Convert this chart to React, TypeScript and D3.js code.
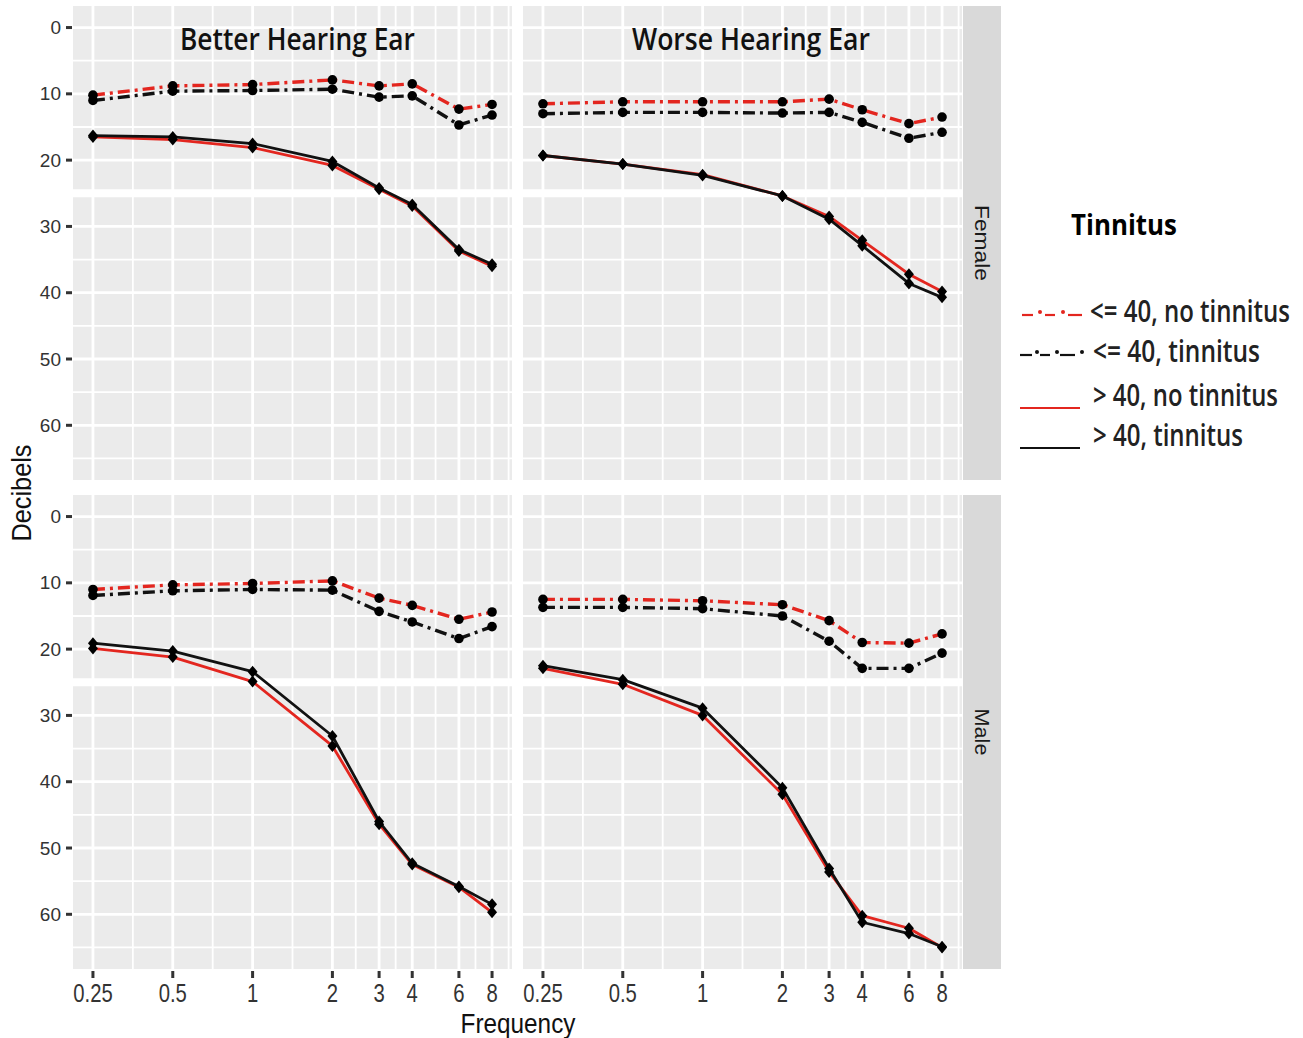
import React, { useLayoutEffect, useRef, useState } from "react";
import * as d3 from "d3";

// ---------- data ----------
const freqs = [0.25, 0.5, 1, 2, 3, 4, 6, 8];
const freqLabels = ["0.25", "0.5", "1", "2", "3", "4", "6", "8"];
const dbTicks = [0, 10, 20, 30, 40, 50, 60];
const dbMinor = [5, 15, 25, 35, 45, 55, 65];
const ears = ["Better Hearing Ear", "Worse Hearing Ear"];
const sexes = ["Female", "Male"];
const seriesNames = ["<= 40, no tinnitus", "<= 40, tinnitus", "> 40, no tinnitus", "> 40, tinnitus"];
const seriesColors = ["#e3261f", "#111111", "#e3261f", "#111111"];
const seriesDashed = [true, true, false, false];

// Better ear, female
const betterFemaleLe40NoTin = [10.2, 8.8, 8.6, 7.9, 8.8, 8.5, 12.3, 11.6];
const betterFemaleLe40Tin = [11.0, 9.6, 9.5, 9.3, 10.5, 10.3, 14.7, 13.2];
const betterFemaleGt40NoTin = [16.5, 16.9, 18.1, 20.8, 24.4, 26.9, 33.7, 36.0];
const betterFemaleGt40Tin = [16.3, 16.5, 17.5, 20.2, 24.2, 26.7, 33.5, 35.7];
// Worse ear, female
const worseFemaleLe40NoTin = [11.5, 11.2, 11.2, 11.2, 10.8, 12.4, 14.5, 13.5];
const worseFemaleLe40Tin = [13.0, 12.8, 12.8, 12.9, 12.8, 14.3, 16.7, 15.8];
const worseFemaleGt40NoTin = [19.3, 20.6, 22.2, 25.4, 28.5, 32.1, 37.2, 39.8];
const worseFemaleGt40Tin = [19.3, 20.6, 22.3, 25.4, 28.9, 32.9, 38.6, 40.7];
// Better ear, male
const betterMaleLe40NoTin = [11.0, 10.3, 10.1, 9.7, 12.3, 13.4, 15.5, 14.4];
const betterMaleLe40Tin = [11.9, 11.2, 11.0, 11.1, 14.3, 15.9, 18.4, 16.6];
const betterMaleGt40NoTin = [19.9, 21.2, 24.9, 34.6, 46.4, 52.5, 55.9, 59.7];
const betterMaleGt40Tin = [19.1, 20.3, 23.4, 33.1, 46.0, 52.3, 55.8, 58.5];
// Worse ear, male
const worseMaleLe40NoTin = [12.5, 12.5, 12.7, 13.3, 15.7, 19.0, 19.1, 17.7];
const worseMaleLe40Tin = [13.7, 13.7, 13.9, 15.0, 18.8, 22.9, 22.9, 20.6];
const worseMaleGt40NoTin = [22.9, 25.3, 30.0, 41.9, 53.6, 60.2, 62.1, 65.0];
const worseMaleGt40Tin = [22.5, 24.6, 28.9, 40.9, 53.1, 61.2, 62.9, 64.9];

// panel lookup [row=sex][col=ear] -> series list
const panelData = [
  [
    [betterFemaleLe40NoTin, betterFemaleLe40Tin, betterFemaleGt40NoTin, betterFemaleGt40Tin],
    [worseFemaleLe40NoTin, worseFemaleLe40Tin, worseFemaleGt40NoTin, worseFemaleGt40Tin],
  ],
  [
    [betterMaleLe40NoTin, betterMaleLe40Tin, betterMaleGt40NoTin, betterMaleGt40Tin],
    [worseMaleLe40NoTin, worseMaleLe40Tin, worseMaleGt40NoTin, worseMaleGt40Tin],
  ],
];

// ---------- layout ----------
const W = 1303;
const H = 1038;
const colX: [number, number][] = [
  [73, 512],
  [523, 962],
];
const rowY: [number, number][] = [
  [6, 480],
  [495, 969],
];
const stripX: [number, number] = [963, 1001];
const PANEL_BG = "#ebebeb";
const ARIAL = "'Liberation Sans', Arial, sans-serif";
const HUMAN = "'Open Sans', 'Noto Sans', sans-serif";

const logDomain: [number, number] = [0.25 * Math.pow(2, -0.25), 8 * Math.pow(2, 0.25)];
const yDomain: [number, number] = [-3.25, 68.25];

function minorX(): number[] {
  const lb = freqs.map((f) => Math.log2(f));
  const ext = [lb[0] - (lb[1] - lb[0]), ...lb, lb[lb.length - 1] + (lb[lb.length - 1] - lb[lb.length - 2])];
  const out: number[] = [];
  for (let i = 0; i < ext.length - 1; i++) out.push(Math.pow(2, (ext[i] + ext[i + 1]) / 2));
  const [a, b] = logDomain;
  return out.filter((v) => v > a && v < b);
}

// text squeezed horizontally to a target width (measured), keeping real bbox
function FitText(props: {
  x: number;
  y: number;
  target: number;
  anchor?: string;
  rotate?: number;
  size: number;
  family: string;
  weight?: number;
  fill: string;
  dy?: string;
  children: string;
}) {
  const ref = useRef<SVGTextElement>(null);
  const [s, setS] = useState(1);
  useLayoutEffect(() => {
    if (ref.current) {
      const len = ref.current.getComputedTextLength();
      if (len > 0) setS(props.target / len);
    }
  }, [props.target, props.children]);
  return (
    <g transform={`translate(${props.x},${props.y}) rotate(${props.rotate || 0}) scale(${s},1)`}>
      <text
        ref={ref}
        x={0}
        y={0}
        dy={props.dy}
        textAnchor={props.anchor || "start"}
        fontFamily={props.family}
        fontWeight={props.weight || 400}
        fontSize={props.size}
        fill={props.fill}
      >
        {props.children}
      </text>
    </g>
  );
}

function Panel({ r, c }: { r: number; c: number }) {
  const [x0, x1] = colX[c];
  const [y0, y1] = rowY[r];
  const x = d3.scaleLog().base(2).domain(logDomain).range([x0, x1]);
  const y = d3.scaleLinear().domain(yDomain).range([y0, y1]);
  const series = panelData[r][c];
  const line = d3
    .line<number>()
    .x((_, i) => x(freqs[i]))
    .y((v) => y(v));
  return (
    <g>
      <rect x={x0} y={y0} width={x1 - x0} height={y1 - y0} fill={PANEL_BG} />
      {dbMinor.map((v) => (
        <line key={"hm" + v} x1={x0} x2={x1} y1={y(v)} y2={y(v)} stroke="#fff" strokeWidth={v === 25 ? 8 : 1.8} />
      ))}
      {minorX().map((f, i) => (
        <line key={"vm" + i} x1={x(f)} x2={x(f)} y1={y0} y2={y1} stroke="#fff" strokeWidth={1.8} />
      ))}
      {dbTicks.map((v) => (
        <line key={"hM" + v} x1={x0} x2={x1} y1={y(v)} y2={y(v)} stroke="#fff" strokeWidth={2.8} />
      ))}
      {freqs.map((f) => (
        <line key={"vM" + f} x1={x(f)} x2={x(f)} y1={y0} y2={y1} stroke="#fff" strokeWidth={2.8} />
      ))}
      {series.map((vals, si) => (
        <path
          key={"l" + si}
          d={line(vals) || ""}
          fill="none"
          stroke={seriesColors[si]}
          strokeWidth={seriesDashed[si] ? 3.4 : 2.8}
          strokeDasharray={seriesDashed[si] ? "12 5 3 5" : undefined}
          strokeLinejoin="round"
        />
      ))}
      {series.map((vals, si) =>
        vals.map((v, i) =>
          seriesDashed[si] ? (
            <circle key={"p" + si + "-" + i} cx={x(freqs[i])} cy={y(v)} r={4.8} fill="#000" />
          ) : (
            <path
              key={"p" + si + "-" + i}
              d={`M${x(freqs[i])},${y(v) - 6}L${x(freqs[i]) + 5},${y(v)}L${x(freqs[i])},${y(v) + 6}L${x(freqs[i]) - 5},${y(v)}Z`}
              fill="#000"
            />
          )
        )
      )}
      {c === 0 &&
        dbTicks.map((v) => (
          <g key={"yt" + v}>
            <line x1={66} x2={72} y1={y(v)} y2={y(v)} stroke="#333" strokeWidth={3} />
            <text x={61} y={y(v)} dy="0.35em" textAnchor="end" fontFamily={ARIAL} fontSize={19} fill="#333">
              {v}
            </text>
          </g>
        ))}
      {r === 1 &&
        freqs.map((f, i) => (
          <g key={"xt" + f}>
            <line x1={x(f)} x2={x(f)} y1={971} y2={978} stroke="#333" strokeWidth={3} />
            <g transform={`translate(${x(f)},1002) scale(0.78,1)`}>
              <text x={0} y={0} textAnchor="middle" fontFamily={ARIAL} fontSize={26} fill="#333">
                {freqLabels[i]}
              </text>
            </g>
          </g>
        ))}
    </g>
  );
}

export default function App() {
  const legendY = [322, 362, 406, 446];
  const legendTextX = [1090, 1093, 1093, 1093];
  const legendLen = [200, 167, 185, 150];
  return (
    <svg width={W} height={H} viewBox={`0 0 ${W} ${H}`} style={{ display: "block", position: "absolute", left: 0, top: 0, background: "#fff" }}>
      <rect x={0} y={0} width={W} height={H} fill="#fff" />
      {[0, 1].map((r) => [0, 1].map((c) => <Panel key={r + "-" + c} r={r} c={c} />))}
      {sexes.map((s, r) => {
        const [y0, y1] = rowY[r];
        const cy = (y0 + y1) / 2;
        return (
          <g key={s}>
            <rect x={stripX[0]} y={y0} width={stripX[1] - stripX[0]} height={y1 - y0} fill="#d9d9d9" />
            <FitText x={(stripX[0] + stripX[1]) / 2} y={cy} rotate={90} dy="0.35em" anchor="middle" family={ARIAL} size={21} fill="#1a1a1a" target={s.length > 4 ? 76 : 47}>
              {s}
            </FitText>
          </g>
        );
      })}
      {ears.map((e, c) => (
        <FitText key={e} x={c === 0 ? 180 : 632} y={50} family={HUMAN} weight={600} size={31} fill="#111" target={c === 0 ? 235 : 238}>
          {e}
        </FitText>
      ))}
      <FitText x={31} y={493} rotate={-90} anchor="middle" family={ARIAL} size={27} fill="#111" target={97}>
        Decibels
      </FitText>
      <FitText x={518} y={1033} anchor="middle" family={ARIAL} size={28} fill="#111" target={115}>
        Frequency
      </FitText>
      <FitText x={1071} y={235} family={HUMAN} weight={700} size={28} fill="#000" target={106}>
        Tinnitus
      </FitText>
      {seriesNames.map((n, i) => {
        const ly = legendY[i];
        const col = seriesColors[i];
        let key;
        if (seriesDashed[i]) {
          const segs = i === 0 ? [[1022, 1033], [1045, 1055], [1068, 1082]] : [[1020, 1032], [1040, 1050], [1060, 1075]];
          const dots = i === 0 ? [1040, 1063] : [1037, 1057, 1082];
          key = (
            <g>
              {segs.map((sg, k) => (
                <line key={k} x1={sg[0]} x2={sg[1]} y1={ly - 7} y2={ly - 7} stroke={col} strokeWidth={2.2} />
              ))}
              {dots.map((d, k) => (
                <circle key={"d" + k} cx={d} cy={ly - 10} r={2} fill={col} />
              ))}
            </g>
          );
        } else {
          key = <line x1={1020} x2={1080} y1={ly + 2} y2={ly + 2} stroke={col} strokeWidth={2.2} />;
        }
        return (
          <g key={n}>
            {key}
            <FitText x={legendTextX[i]} y={ly} family={HUMAN} weight={600} size={30} fill="#222" target={legendLen[i]}>
              {n}
            </FitText>
          </g>
        );
      })}
    </svg>
  );
}
